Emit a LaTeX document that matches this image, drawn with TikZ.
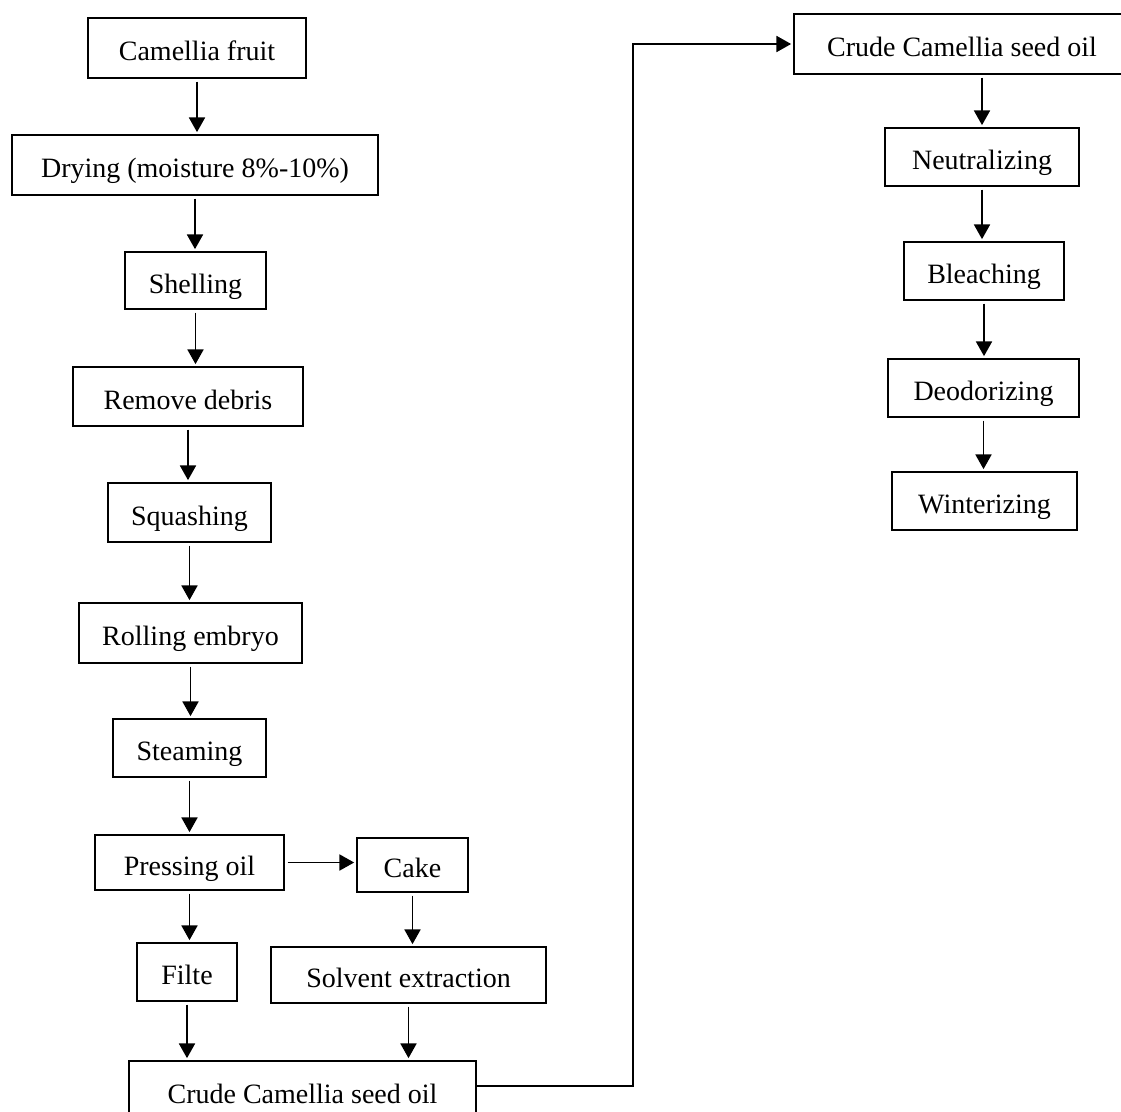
\documentclass[tikz,border=0pt]{standalone}
\usepackage{fontspec}
\setmainfont{Liberation Serif}
\usetikzlibrary{arrows.meta}

\tikzset{every picture/.style={line width=0.75pt}}

\begin{document}
\begin{tikzpicture}[
            x=0.75pt,
            y=0.75pt,
            yscale=-1,
            xscale=1,
            every node/.style={text=black},
            stage/.style={draw=black, line width=1.3pt, inner sep=0pt, text height=18.75pt, text depth=0pt, font=\fontsize{21}{25}\selectfont},
            flow/.style={draw=black, line width=1.3pt, -{Triangle[length=11pt,width=12pt]}, shorten <=2pt, shorten >=1.5pt},
            line width=0.75pt
        ]
            \useasboundingbox (0,0) rectangle (1121,1111);
            \clip (0,0) rectangle (1121,1111);

            % pressing line
            \node [stage, minimum width=163.5pt, minimum height=45pt] (fruit) at (197,48) {Camellia fruit};
            \node [stage, minimum width=274.5pt, minimum height=45pt] (drying) at (195,165) {Drying (moisture 8\%-10\%)};
            \node [stage, minimum width=105.75pt, minimum height=42.75pt] (shelling) at (195.5,280.5) {Shelling};
            \node [stage, minimum width=172.5pt, minimum height=44.25pt] (debris) at (188,396.5) {Remove debris};
            \node [stage, minimum width=122.25pt, minimum height=44.25pt] (squash) at (189.5,512.5) {Squashing};
            \node [stage, minimum width=167.25pt, minimum height=45pt] (rolling) at (190.5,633) {Rolling embryo};
            \node [stage, minimum width=114.75pt, minimum height=43.5pt] (steam) at (189.5,748) {Steaming};
            \node [stage, minimum width=141.75pt, minimum height=41.25pt] (press) at (189.5,862.5) {Pressing oil};
            \node [stage, minimum width=83.25pt, minimum height=40.5pt] (cake) at (412.5,865) {Cake};
            \node [stage, minimum width=75pt, minimum height=43.5pt] (filte) at (187,972) {Filte};
            \node [stage, minimum width=206.25pt, minimum height=42pt] (solvent) at (408.5,975) {Solvent extraction};
            \node [stage, minimum width=260.25pt, minimum height=44.25pt] (crudeA) at (302.5,1090.5) {Crude Camellia seed oil};

            % refining line
            \node [stage, minimum width=252pt, minimum height=45pt] (crudeB) at (962,44) {Crude Camellia seed oil};
            \node [stage, minimum width=145.5pt, minimum height=43.5pt] (neutral) at (982,157) {Neutralizing};
            \node [stage, minimum width=120pt, minimum height=43.5pt] (bleach) at (984,271) {Bleaching};
            \node [stage, minimum width=143.25pt, minimum height=43.5pt] (deodor) at (983.5,388) {Deodorizing};
            \node [stage, minimum width=138.75pt, minimum height=43.5pt] (winter) at (984.5,501) {Winterizing};

            \draw [flow] (fruit.south) -- (fruit.south |- drying.north);
            \draw [flow] (drying.south) -- (drying.south |- shelling.north);
            \draw [flow] (shelling.south) -- (shelling.south |- debris.north);
            \draw [flow] (debris.south) -- (debris.south |- squash.north);
            \draw [flow] (squash.south) -- (squash.south |- rolling.north);
            \draw [flow] (rolling.south) -- (rolling.south |- steam.north);
            \draw [flow] (steam.south) -- (steam.south |- press.north);
            \draw [flow] (press.east) -- (press.east -| cake.west);
            \draw [flow] (press.south) -- (press.south |- filte.north);
            \draw [flow] (cake.south) -- (cake.south |- solvent.north);
            \draw [flow] (filte.south) -- (filte.south |- crudeA.north);
            \draw [flow] (solvent.south) -- (solvent.south |- crudeA.north);

            \coordinate (bend) at (633,1086);
            \draw [flow, shorten <=0pt] (crudeA.east |- bend) -- (bend) |- (crudeB.west);

            \draw [flow] (crudeB.south -| neutral.north) -- (neutral.north);
            \draw [flow] (neutral.south) -- (neutral.south |- bleach.north);
            \draw [flow] (bleach.south) -- (bleach.south |- deodor.north);
            \draw [flow] (deodor.south) -- (deodor.south |- winter.north);
        \end{tikzpicture}
\end{document}
